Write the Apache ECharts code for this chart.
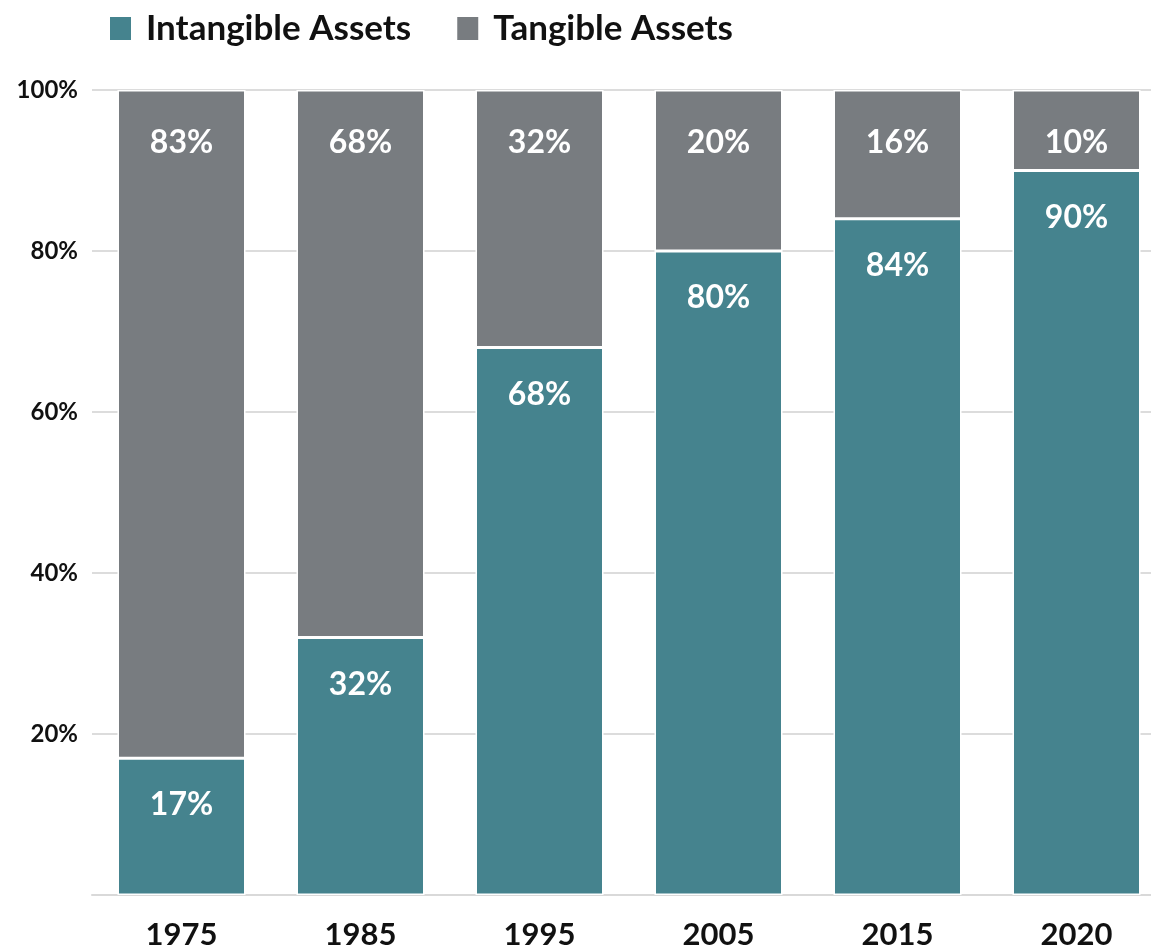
<!DOCTYPE html>
<html>
<head>
<meta charset="utf-8">
<script src="https://cdn.jsdelivr.net/npm/echarts@6/dist/echarts.min.js"></script>
<style>
  html, body { margin: 0; padding: 0; background: #fff; }
  #chart { width: 1151px; height: 952px; }
</style>
</head>
<body>
<div id="chart"></div>
<script>
const years = ['1975', '1985', '1995', '2005', '2015', '2020']
const intangible = [17, 32, 68, 80, 84, 90]
const tangible = [83, 68, 32, 20, 16, 10]
const yTicks = [0, 20, 40, 60, 80, 100]

const TEAL = '#45838e'
const GRAY = '#787c80'
const FONT = 'Lato, "Noto Sans", sans-serif'

const chart = echarts.init(document.getElementById('chart'))

const option = {
  backgroundColor: '#fff',
  animation: false,
  textStyle: { fontFamily: FONT },
  legend: {
    top: 6,
    left: 103,
    itemWidth: 23,
    itemHeight: 25,
    itemGap: 44,
    icon: 'rect',
    textStyle: { fontSize: 35, fontWeight: 'bold', color: '#111', fontFamily: FONT, padding: [0, 0, 0, 9] },
    data: ['Intangible Assets', 'Tangible Assets']
  },
  // plot runs past the right edge of the picture, as in the reference
  grid: { left: 92, width: 1074, top: 90, bottom: 57, containLabel: false, outerBoundsMode: 'none' },
  xAxis: {
    type: 'category',
    data: years,
    axisLine: { lineStyle: { color: '#d9d9d9', width: 2 } },
    axisTick: { show: false },
    axisLabel: { color: '#111', fontSize: 31, fontWeight: 'bold', margin: 24, fontFamily: FONT }
  },
  yAxis: {
    type: 'value',
    min: yTicks[0],
    max: yTicks[yTicks.length - 1],
    interval: 20,
    axisLine: { show: false },
    axisTick: { show: false },
    splitLine: { lineStyle: { color: '#dcdcdc', width: 2 } },
    axisLabel: {
      color: '#111',
      fontSize: 24,
      fontWeight: 'bold',
      margin: 14,
      fontFamily: FONT,
      formatter: function (v) { return v === 0 ? '' : v + '%' }
    }
  },
  series: [
    {
      name: 'Intangible Assets',
      type: 'bar',
      stack: 'total',
      barWidth: 128,
      itemStyle: { color: TEAL, borderColor: '#fff', borderWidth: 1.5 },
      label: {
        show: true,
        position: 'insideTop',
        distance: 31,
        color: '#fff',
        fontSize: 32,
        fontWeight: 'bold',
        fontFamily: FONT,
        formatter: '{c}%'
      },
      data: intangible
    },
    {
      name: 'Tangible Assets',
      type: 'bar',
      stack: 'total',
      barWidth: 128,
      itemStyle: { color: GRAY, borderColor: '#fff', borderWidth: 1.5 },
      label: {
        show: true,
        position: 'insideTop',
        distance: 37,
        color: '#fff',
        fontSize: 32,
        fontWeight: 'bold',
        fontFamily: FONT,
        formatter: '{c}%'
      },
      data: tangible
    }
  ]
}

chart.setOption(option)
</script>
</body>
</html>
